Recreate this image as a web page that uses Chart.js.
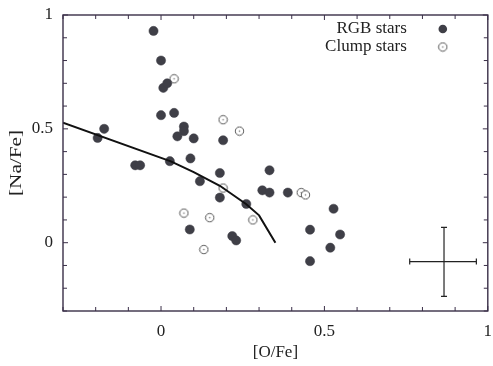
<!DOCTYPE html>
<html>
<head>
<meta charset="utf-8">
<script src="https://cdn.jsdelivr.net/npm/chart.js@4.4.0/dist/chart.umd.min.js"></script>
<style>
    html, body { margin: 0; padding: 0; background: #fff; }
    #wrap { width: 493px; height: 366px; position: relative; }
</style>
</head>
<body>
<div id="wrap"><canvas id="chart"></canvas></div>
<script>
// RGB stars: [O/Fe], [Na/Fe]
const rgbX = [-0.023, 0, 0.007, 0.019, 0, 0.04, 0.07, 0.07, 0.05, 0.10, 0.19, -0.174, -0.194,
    -0.079, -0.064, 0.027, 0.09, 0.18, 0.119, 0.332, 0.31, 0.332, 0.18, 0.261, 0.088, 0.218,
    0.23, 0.388, 0.528, 0.456, 0.548, 0.518, 0.456];
const rgbY = [0.93, 0.80, 0.68, 0.70, 0.56, 0.57, 0.51, 0.49, 0.467, 0.458, 0.45, 0.50, 0.46,
    0.34, 0.34, 0.358, 0.37, 0.306, 0.27, 0.318, 0.23, 0.22, 0.198, 0.17, 0.058, 0.029,
    0.01, 0.22, 0.149, 0.057, 0.036, -0.022, -0.081];

// Clump stars
const clumpX = [0.04, 0.19, 0.24, 0.19, 0.07, 0.149, 0.281, 0.131, 0.429, 0.442];
const clumpY = [0.72, 0.54, 0.49, 0.24, 0.13, 0.11, 0.10, -0.03, 0.22, 0.21];

// model curve
const modelX = [-0.3, 0.03, 0.10, 0.18, 0.26, 0.30, 0.35];
const modelY = [0.527, 0.357, 0.31, 0.25, 0.17, 0.12, 0.0];

// typical error bar
const errCenter = [0.866, -0.083];
const errX = [0.761, 0.965];
const errY = [0.067, -0.236];

const labeledTicks = [0, 0.5, 1];
const legendLabels = ['RGB stars', 'Clump stars'];
const yTitle = '[Na/Fe]';
const xTitle = '[O/Fe]';

const FONT = "'Liberation Serif', 'DejaVu Serif', serif";
const INK = '#222';
const AXIS = '#3a2f48';

function toPoints(xs, ys) {
    return xs.map((x, i) => ({ x: x, y: ys[i] }));
}

// open circle with a little dot in the middle
function makeOpenCircle() {
    const c = document.createElement('canvas');
    c.width = 11; c.height = 11;
    const g = c.getContext('2d');
    g.fillStyle = '#fff';
    g.strokeStyle = '#555';
    g.lineWidth = 1;
    g.beginPath();
    g.arc(5.5, 5.5, 4.2, 0, Math.PI * 2);
    g.fill();
    g.stroke();
    g.fillStyle = '#777';
    g.beginPath();
    g.arc(5.5, 5.5, 0.8, 0, Math.PI * 2);
    g.fill();
    return c;
}
const openCircle = makeOpenCircle();

function tickLabel(v) {
    const hit = labeledTicks.find(t => Math.abs(t - v) < 1e-6);
    return hit === undefined ? '' : String(hit);
}

// frame, inward ticks on all four sides, y title and the legend
const framePlugin = {
    id: 'frame',
    afterDraw(chart) {
        const { ctx, chartArea: a, scales } = chart;
        ctx.save();
        ctx.strokeStyle = AXIS;
        ctx.lineWidth = 1.4;
        ctx.strokeRect(a.left, a.top, a.right - a.left, a.bottom - a.top);

        ctx.lineWidth = 1;
        scales.x.ticks.forEach(t => {
            const px = scales.x.getPixelForValue(t.value);
            const len = tickLabel(t.value) ? 5 : 4;
            ctx.beginPath();
            ctx.moveTo(px, a.bottom); ctx.lineTo(px, a.bottom - len);
            ctx.moveTo(px, a.top); ctx.lineTo(px, a.top + len);
            ctx.stroke();
        });
        scales.y.ticks.forEach(t => {
            const py = scales.y.getPixelForValue(t.value);
            const len = tickLabel(t.value) ? 5 : 4;
            ctx.beginPath();
            ctx.moveTo(a.left, py); ctx.lineTo(a.left + len, py);
            ctx.moveTo(a.right, py); ctx.lineTo(a.right - len, py);
            ctx.stroke();
        });

        // y title, a little stretched along its length like the original
        ctx.font = '17px ' + FONT;
        ctx.fillStyle = INK;
        ctx.textAlign = 'center';
        ctx.textBaseline = 'middle';
        ctx.save();
        ctx.translate(17, (a.top + a.bottom) / 2);
        ctx.rotate(-Math.PI / 2);
        ctx.scale(1.25, 1);
        ctx.fillText(yTitle, 0, 0);
        ctx.restore();

        // legend: text right-aligned, marker to the right
        ctx.textAlign = 'right';
        const textRight = a.right - 81;
        const markX = a.right - 45;
        const rows = [a.top + 14, a.top + 32];
        ctx.fillText(legendLabels[0], textRight, rows[0]);
        ctx.fillText(legendLabels[1], textRight, rows[1]);
        ctx.fillStyle = '#3f3f47';
        ctx.beginPath();
        ctx.arc(markX, rows[0], 4.3, 0, Math.PI * 2);
        ctx.fill();
        ctx.drawImage(openCircle, markX - 5.5, rows[1] - 5.5);
        ctx.restore();
    }
};

new Chart(document.getElementById('chart'), {
    type: 'scatter',
    data: {
        datasets: [
            {
                label: 'model',
                type: 'line',
                data: toPoints(modelX, modelY),
                borderColor: '#111',
                borderWidth: 2,
                pointRadius: 0,
                tension: 0,
                fill: false
            },
            {
                label: legendLabels[0],
                data: toPoints(rgbX, rgbY),
                pointRadius: 4.6,
                pointBackgroundColor: '#3f3f47',
                pointBorderColor: '#3f3f47',
                pointBorderWidth: 0.5
            },
            {
                label: legendLabels[1],
                data: toPoints(clumpX, clumpY),
                pointStyle: openCircle
            },
            {
                label: 'err-x',
                type: 'line',
                data: toPoints(errX, [errCenter[1], errCenter[1]]),
                borderColor: '#222',
                borderWidth: 1.2,
                pointStyle: 'line',
                rotation: 90,
                pointRadius: 3,
                pointBorderColor: '#222',
                pointBorderWidth: 1.2
            },
            {
                label: 'err-y',
                type: 'line',
                data: toPoints([errCenter[0], errCenter[0]], errY),
                borderColor: '#222',
                borderWidth: 1.2,
                pointStyle: 'line',
                rotation: 0,
                pointRadius: 3,
                pointBorderColor: '#222',
                pointBorderWidth: 1.2
            }
        ]
    },
    options: {
        responsive: true,
        maintainAspectRatio: false,
        animation: false,
        layout: { padding: { top: 15, right: 2, left: 0, bottom: 0 } },
        plugins: {
            legend: { display: false },
            tooltip: { enabled: false }
        },
        scales: {
            x: {
                type: 'linear',
                min: -0.3,
                max: 1,
                grid: { display: false, drawTicks: false },
                border: { display: false },
                afterFit: s => { s.paddingRight = 0; s.paddingLeft = 0; s.height = 55; },
                ticks: {
                    stepSize: 0.1,
                    autoSkip: false,
                    maxRotation: 0,
                    padding: 10,
                    color: INK,
                    font: { family: FONT, size: 17 },
                    callback: v => tickLabel(v)
                },
                title: {
                    display: true,
                    text: xTitle,
                    color: INK,
                    font: { family: FONT, size: 17 },
                    padding: { top: 0, bottom: 3 }
                }
            },
            y: {
                type: 'linear',
                min: -0.3,
                max: 1,
                grid: { display: false, drawTicks: false },
                border: { display: false },
                afterFit: s => { s.width = 63; s.paddingTop = 0; s.paddingBottom = 0; },
                ticks: {
                    stepSize: 0.1,
                    autoSkip: false,
                    padding: 10,
                    color: INK,
                    font: { family: FONT, size: 17 },
                    callback: v => tickLabel(v)
                }
            }
        }
    },
    plugins: [framePlugin]
});
</script>
</body>
</html>
